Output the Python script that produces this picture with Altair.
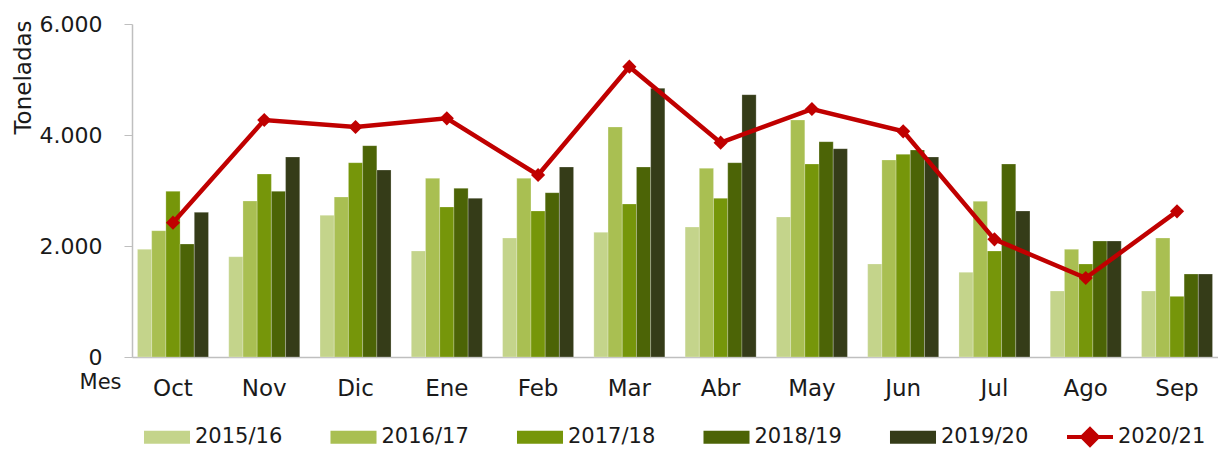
import altair as alt
import pandas as pd

months = ["Oct", "Nov", "Dic", "Ene", "Feb", "Mar", "Abr", "May", "Jun", "Jul", "Ago", "Sep"]
seasons = ["2015/16", "2016/17", "2017/18", "2018/19", "2019/20"]
s1516 = [1940, 1807, 2553, 1910, 2144, 2246, 2342, 2523, 1676, 1526, 1189, 1189]
s1617 = [2276, 2811, 2883, 3219, 3219, 4144, 3399, 4270, 3550, 2805, 1940, 2144]
s1718 = [2985, 3297, 3501, 2703, 2631, 2757, 2859, 3477, 3651, 1910, 1676, 1093]
s1819 = [2036, 2985, 3808, 3039, 2961, 3423, 3501, 3880, 3730, 3477, 2090, 1495]
s1920 = [2607, 3604, 3369, 2859, 3423, 4841, 4727, 3754, 3604, 2631, 2090, 1495]
s2021 = [2420, 4270, 4144, 4300, 3279, 5231, 3862, 4468, 4066, 2120, 1423, 2625]
line_name = "2020/21"
bar_colors = ["#C4D48B", "#A9BF52", "#76960A", "#4C6406", "#353C18"]
line_color = "#C00000"
y_ticks = [0, 2000, 4000, 6000]

FONT = "Century Gothic, DejaVu Sans, sans-serif"
TXT = "#1a1a1a"

rows = []
for name, vals in zip(seasons, [s1516, s1617, s1718, s1819, s1920]):
    for m, v in zip(months, vals):
        rows.append({"Mes": m, "Temporada": name, "Valor": v})
bars_df = pd.DataFrame(rows)
line_df = pd.DataFrame({"Mes": months, "Valor": s2021, "Serie": [line_name] * len(months)})

x_scale = alt.Scale(domain=months, paddingInner=0.222, paddingOuter=0.06)
y_scale = alt.Scale(domain=[0, 6000], nice=False)

x_axis = alt.Axis(
    title="Mes", titleX=-32, titleY=31, titleAlign="center", titleBaseline="alphabetic",
    titleFontSize=21, titleFontWeight="normal", titleFont=FONT, titleColor=TXT,
    labelAngle=0, labelFontSize=23, labelFont=FONT, labelColor=TXT, labelPadding=20,
    ticks=False, domainColor="#BFBFBF", domainWidth=1.5,
)
y_axis = alt.Axis(
    title="Toneladas", values=y_ticks, grid=False,
    labelExpr="replace(format(datum.value, ','), ',', '.')",
    labelFontSize=22, labelFont=FONT, labelColor=TXT, labelPadding=22,
    tickSize=8, tickColor="#BFBFBF", domainColor="#BFBFBF", domainWidth=1.5,
    titleAngle=-90, titleX=-102, titleY=53, titleAlign="center", titleBaseline="alphabetic",
    titleFontSize=23, titleFontWeight="normal", titleFont=FONT, titleColor=TXT,
)

bars = alt.Chart(bars_df).mark_bar(stroke="#ffffff", strokeWidth=0.4, strokeOpacity=0.6).encode(
    x=alt.X("Mes:N", sort=months, scale=x_scale, axis=x_axis),
    xOffset=alt.XOffset("Temporada:N", sort=seasons, scale=alt.Scale(paddingInner=0, paddingOuter=0)),
    y=alt.Y("Valor:Q", scale=y_scale, axis=y_axis),
    color=alt.Color(
        "Temporada:N", sort=seasons,
        scale=alt.Scale(domain=seasons, range=bar_colors),
        legend=alt.Legend(
            title=None, orient="none", legendX=24.5, legendY=402.5, direction="horizontal",
            columns=5, symbolType="M-3.54,-1H3.54V1H-3.54Z", symbolSize=169,
            symbolStrokeWidth=0, symbolOpacity=1, labelOffset=17.5, columnPadding=47.5,
            labelFontSize=21, labelFont=FONT, labelColor=TXT,
        ),
    ),
)

line = alt.Chart(line_df).mark_line(strokeWidth=4.5).encode(
    x=alt.X("Mes:N", sort=months, scale=x_scale),
    y=alt.Y("Valor:Q", scale=y_scale),
    stroke=alt.Stroke(
        "Serie:N",
        scale=alt.Scale(domain=[line_name], range=[line_color]),
        legend=alt.Legend(
            title=None, orient="none", legendX=947.5, legendY=402.5, direction="horizontal",
            symbolType="M-3.54,0H3.54M-1.2,0L0,-1.2L1.2,0L0,1.2Z", symbolSize=169,
            symbolStrokeWidth=4, symbolFillColor=line_color, symbolStrokeColor=line_color,
            symbolOpacity=1, labelOffset=17.5,
            labelFontSize=21, labelFont=FONT, labelColor=TXT,
        ),
    ),
)

points = alt.Chart(line_df).mark_point(shape="diamond", filled=True, size=200, opacity=1, color=line_color).encode(
    x=alt.X("Mes:N", sort=months, scale=x_scale),
    y=alt.Y("Valor:Q", scale=y_scale),
)

chart = alt.layer(bars, line, points).properties(
    width=1086, height=333,
    padding={"left": 4, "top": 5, "right": 0, "bottom": 0},
).configure(font=FONT).configure_view(stroke=None)

chart.save("out.html", embed_options={"renderer": "svg", "actions": False})
